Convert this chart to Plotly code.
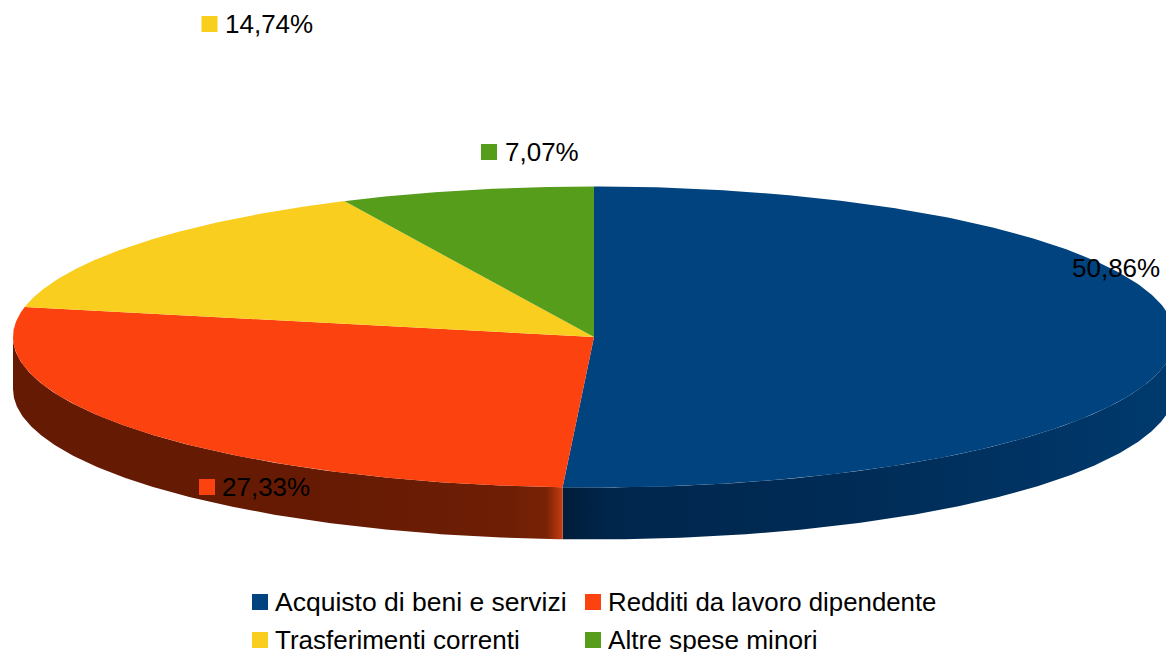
import numpy as np
import plotly.graph_objects as go

categories = ["Acquisto di beni e servizi", "Redditi da lavoro dipendente",
              "Trasferimenti correnti", "Altre spese minori"]
values = [50.86, 27.33, 14.74, 7.07]
value_labels = ["50,86%", "27,33%", "14,74%", "7,07%"]
colors = ["#00437f", "#fc420e", "#f9ce1f", "#579d1c"]

# layout constants (pixels; axes are mapped 1:1 on the page)
W, H = 1166, 652
CX, CY, RX, RY, DEPTH = 594.0, 337.0, 581.0, 150.5, 52.0
FONT = "Liberation Sans"
FS = 26
KEY = 16
label_key_x = [1056, 207, 209.5, 489]
label_text_gap = [6, 5, 5, 6]
label_y = [268, 487, 24, 152]
legend_key_x = [260, 593, 260, 593]
legend_y = [602, 602, 640, 640]
legend_font_size = [26.5, 25.8, 26, 26.2]


def ell(t, dy=0.0):
    return CX + RX * np.sin(t), CY - RY * np.cos(t) + dy


cum = np.concatenate([[0], np.cumsum(values)]) / sum(values) * 2 * np.pi
fig = go.Figure()

# side walls: blue from pi/2 to end of blue, orange from there to 3pi/2
t1 = np.linspace(np.pi / 2, cum[1], 200)
t2 = np.linspace(cum[1], 3 * np.pi / 2, 200)
walls = [
    (t1, [[0, "#001d3a"], [0.08, "#00264c"], [0.5, "#002c57"], [1, "#003a6e"]]),
    (t2, [[0, "#641a03"], [0.55, "#661a03"], [0.9, "#6e1e05"], [0.97, "#782206"], [1, "#c43c10"]]),
]
for t, scale in walls:
    x0, y0 = ell(t)
    x1, y1 = ell(t[::-1], DEPTH)
    fig.add_trace(go.Scatter(
        x=np.r_[x0, x1], y=np.r_[y0, y1], mode="lines", fill="toself",
        line=dict(width=0), hoverinfo="skip", showlegend=False,
        fillgradient=dict(type="horizontal", colorscale=scale),
    ))

# top faces
for i, c in enumerate(colors):
    t = np.linspace(cum[i], cum[i + 1], 300)
    x, y = ell(t)
    fig.add_trace(go.Scatter(
        x=np.r_[CX, x, CX], y=np.r_[CY, y, CY], mode="lines", fill="toself",
        fillcolor=c, line=dict(width=0), name=categories[i],
        hoverinfo="name", showlegend=False,
    ))

# value-label keys and legend keys
fig.add_trace(go.Scatter(
    x=label_key_x + legend_key_x, y=label_y + legend_y, mode="markers",
    marker=dict(symbol="square", size=KEY, color=colors + colors, line=dict(width=0)),
    hoverinfo="skip", showlegend=False,
))

for kx, ky, s, g in zip(label_key_x, label_y, value_labels, label_text_gap):
    fig.add_annotation(x=kx + KEY / 2 + g, y=ky, text=s, showarrow=False, xanchor="left",
                       yanchor="middle", font=dict(family=FONT, size=FS, color="black"))
for kx, ky, s, fs in zip(legend_key_x, legend_y, categories, legend_font_size):
    fig.add_annotation(x=kx + KEY / 2 + 5, y=ky, text=s, showarrow=False, xanchor="left",
                       yanchor="middle", font=dict(family=FONT, size=fs, color="black"))

fig.update_layout(
    width=W, height=H, margin=dict(l=0, r=0, t=0, b=0),
    paper_bgcolor="white", plot_bgcolor="white", showlegend=False,
    xaxis=dict(range=[0, W], visible=False, fixedrange=True),
    yaxis=dict(range=[H, 0], visible=False, fixedrange=True),
)
fig.write_html("out.html", config={"displayModeBar": False},
               post_script="document.body.style.margin='0';document.body.style.overflow='hidden';")
